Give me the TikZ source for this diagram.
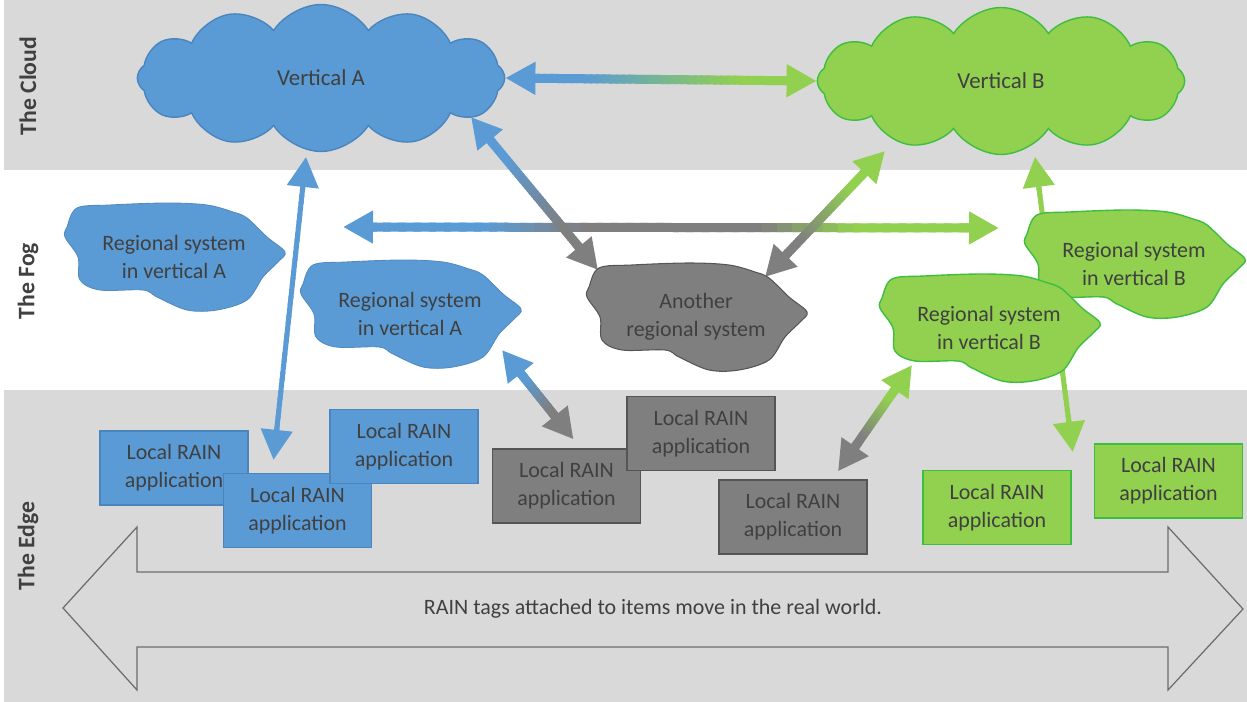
\documentclass[tikz,border=0pt]{standalone}
\usepackage{fontspec}
\setmainfont{Carlito}
\usetikzlibrary{shapes.symbols,arrows.meta,calc}
\pgfdeclarelayer{bands}
\pgfdeclarelayer{links}
\pgfsetlayers{bands,links,main}

\definecolor{bandgray}{HTML}{D9D9D9}
\definecolor{vblue}{HTML}{5B9BD5}
\definecolor{vbluedark}{HTML}{4A85BE}
\definecolor{vgreen}{HTML}{92D050}
\definecolor{vgreendark}{HTML}{3EBE3E}
\definecolor{vgray}{HTML}{7F7F7F}
\definecolor{vgraydark}{HTML}{555555}
\definecolor{txtgray}{HTML}{404040}

% fog blob: outline around a centre, plus its text node
\newcommand{\regblob}[4]{%
  \draw[#3, shift={(#2)}] plot[smooth cycle, tension=0.55] coordinates {(-97,-49) (-64,-52) (-7,-54) (33,-52) (59,-45) (73,-39) (93,-20) (111,-5) (104,5) (89,20) (73,43) (43,53) (13,53) (-17,40) (-31,33) (-74,33) (-94,23) (-96,0) (-109,-20) (-107,-30)};
  \node[fogtext] (#1) at (#2) {#4};
}

% thick double arrow with colour running along the shaft
\newcommand{\gradarrow}[7]{%
  \coordinate (ga-s) at ($(#1)!0.5cm!(#2)$);
  \coordinate (ga-e) at ($(#2)!0.5cm!(#1)$);
  \foreach \k in {0,...,39}{%
    \pgfmathsetmacro{\ta}{\k/40}%
    \pgfmathsetmacro{\tb}{min(1,(\k+1.5)/40)}%
    \pgfmathsetmacro{\fm}{(\k+0.5)/40}%
    \ifdim\fm pt<0.5pt
      \pgfmathtruncatemacro{\mixv}{100*min(1,max(0,(\fm-0.2)/(0.3-#7)))}%
      \colorlet{gacol}{#4!\mixv!#3}%
    \else
      \pgfmathtruncatemacro{\mixv}{100*min(1,max(0,(\fm-0.5-#7)/(0.3-#7)))}%
      \colorlet{gacol}{#5!\mixv!#4}%
    \fi
    \draw[line width=#6, gacol] ($(ga-s)!\ta!(ga-e)$) -- ($(ga-s)!\tb!(ga-e)$);
  }%
  \draw[#3, line width=#6, -{Triangle[width=0.62cm,length=0.6cm]}] ($(#1)!0.68cm!(#2)$) -- (#1);
  \draw[#5, line width=#6, -{Triangle[width=0.62cm,length=0.6cm]}] ($(#2)!0.68cm!(#1)$) -- (#2);
}

\begin{document}
\begin{tikzpicture}[x=0.02cm, y=-0.02cm,
  bandlabel/.style={rotate=90, text=txtgray, font=\fontsize{13.5}{16}\selectfont\bfseries},
  vertcloud/.style={cloud, cloud puffs=12, cloud puff arc=115, cloud ignores aspect,
    minimum width=7.35cm, minimum height=2.94cm, line width=0.8pt, text=txtgray,
    font=\fontsize{13}{16}\selectfont},
  fogtext/.style={align=center, inner sep=0pt, text=txtgray, font=\fontsize{12.5}{16}\selectfont},
  bluefog/.style={fill=vblue, draw=vblue!90!black, line width=0.5pt},
  grayfog/.style={fill=vgray, draw=vgraydark, line width=0.6pt},
  greenfog/.style={fill=vgreen, draw=vgreendark, line width=0.8pt},
  appbox/.style={rectangle, minimum width=2.96cm, minimum height=1.48cm, align=center,
    inner sep=2pt, line width=0.8pt, text=txtgray, font=\fontsize{12.5}{16}\selectfont},
  blueapp/.style={appbox, fill=vblue, draw=vbluedark},
  grayapp/.style={appbox, fill=vgray, draw=vgraydark},
  greenapp/.style={appbox, fill=vgreen, draw=vgreendark},
  movearrow/.style={draw=vgray!85!black, line width=0.7pt, fill=bandgray, line join=miter},
  movetext/.style={text=txtgray, font=\fontsize{12.5}{16}\selectfont}]
	\useasboundingbox (0,0) rectangle (1247,702);
	% bands
	\begin{pgfonlayer}{bands}
		\fill[bandgray] (4,0) rectangle (1247,170);
		\fill[bandgray] (4,390) rectangle (1247,702);
	\end{pgfonlayer}
	\node[bandlabel] (cloudlbl) at (28,86) {The Cloud};
	\node[bandlabel] (foglbl) at (28,281) {The Fog};
	\node[bandlabel] (edgelbl) at (28,546) {The Edge};
	% the cloud
	\node[vertcloud, fill=vblue, draw=vbluedark] (vertA) at (321,78) {Vertical A};
	\node[vertcloud, fill=vgreen, draw=vgreendark] (vertB) at (1001,81) {Vertical B};
	% the fog
	\regblob{regA1}{174,257}{bluefog}{Regional system\\in vertical A}
	\regblob{regA2}{410,314}{bluefog}{Regional system\\in vertical A}
	\regblob{regX}{696,317}{grayfog}{Another\\regional system}
	\regblob{regB1}{1134,264}{greenfog}{Regional system\\in vertical B}
	\regblob{regB2}{989,328}{greenfog}{Regional system\\in vertical B}
	% the edge
	\node[blueapp] (appA1) at (174,468) {Local RAIN\\application};
	\node[blueapp] (appA2) at (297.5,510.5) {Local RAIN\\application};
	\node[blueapp] (appA3) at (404,446.5) {Local RAIN\\application};
	\node[grayapp] (appG1) at (566.5,486) {Local RAIN\\application};
	\node[grayapp] (appG2) at (701,433.5) {Local RAIN\\application};
	\node[grayapp] (appG3) at (793,517) {Local RAIN\\application};
	\node[greenapp] (appB1) at (997,507.5) {Local RAIN\\application};
	\node[greenapp] (appB2) at (1168.5,481) {Local RAIN\\application};
	% movement in the real world
	\draw[movearrow] (63,608) -- (137,527) -- (137,572) -- (1168,572) -- (1168,527) -- (1243,609)
		-- (1168,690) -- (1168,647) -- (137,647) -- (137,690) -- cycle;
	\node[movetext] (tagmove) at (653,609) {RAIN tags attached to items move in the real world.};
	% connectors
	\coordinate (vA-s) at ($(vertA.center)+(-15,79)$);
	\coordinate (aA2-n) at ($(appA2.north)+(-24,-13)$);
	\coordinate (vA-se) at ($(vertA.center)+(150,39)$);
	\coordinate (regX-nw) at ($(regX.center)+(-98,-47)$);
	\coordinate (vB-sw) at ($(vertB.center)+(-116,70)$);
	\coordinate (regX-ne) at ($(regX.center)+(69,-40)$);
	\coordinate (regA1-e) at ($(regA1.center)+(169,-30)$);
	\coordinate (regB1-w) at ($(regB1.center)+(-135,-36)$);
	\coordinate (vB-s) at ($(vertB.center)+(34,76)$);
	\coordinate (aB1-ne) at ($(appB1.north east)+(1,-18)$);
	\coordinate (regA2-se) at ($(regA2.center)+(92,36)$);
	\coordinate (aG1-n) at ($(appG1.north)+(7,-9)$);
	\coordinate (regB2-sw) at ($(regB2.center)+(-77,37)$);
	\coordinate (aG3-n) at ($(appG3.north)+(45,-8)$);
	\begin{pgfonlayer}{links}
		\gradarrow{vA-s}{aA2-n}{vblue}{vblue}{vblue}{0.1cm}{0}
		\gradarrow{vB-s}{aB1-ne}{vgreen}{vgreen}{vgreen}{0.1cm}{0}
		\gradarrow{regA1-e}{regB1-w}{vblue}{vgray}{vgreen}{0.18cm}{0.15}
		\gradarrow{vA-se}{regX-nw}{vblue}{vblue!50!vgray}{vgray}{0.18cm}{0}
		\gradarrow{vB-sw}{regX-ne}{vgreen}{vgreen!50!vgray}{vgray}{0.18cm}{0}
		\gradarrow{vertA.east}{vertB.west}{vblue}{vblue!50!vgreen}{vgreen}{0.18cm}{0}
		\gradarrow{regA2-se}{aG1-n}{vblue}{vblue!50!vgray}{vgray}{0.18cm}{0}
		\gradarrow{regB2-sw}{aG3-n}{vgreen}{vgreen!50!vgray}{vgray}{0.18cm}{0}
	\end{pgfonlayer}
\end{tikzpicture}
\end{document}
